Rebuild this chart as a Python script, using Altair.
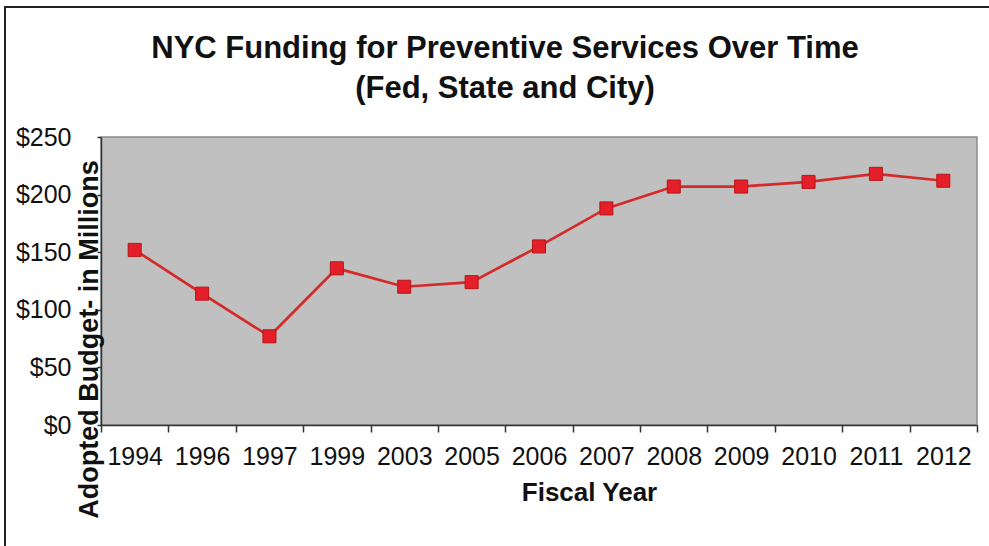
import altair as alt
import pandas as pd

years = ["1994", "1996", "1997", "1999", "2003", "2005", "2006",
         "2007", "2008", "2009", "2010", "2011", "2012"]
budget = [152, 114, 77, 136, 120, 124, 155, 188, 207, 207, 211, 218, 212]
y_ticks = [0, 50, 100, 150, 200, 250]

df = pd.DataFrame({"year": years, "budget": budget})

FONT = "Liberation Sans"

x_enc = alt.X(
    "year:O",
    sort=years,
    scale=alt.Scale(type="band", paddingInner=0, paddingOuter=0),
    bandPosition=0.5,
    axis=alt.Axis(
        title="Fiscal Year",
        titleFont=FONT, titleFontSize=26, titleFontWeight="bold", titleColor="#111",
        titleX=488, titleY=75, titleAlign="center", titleBaseline="alphabetic",
        labelFont=FONT, labelFontSize=25, labelColor="#111", labelAngle=0,
        labelPadding=12, tickBand="extent", tickSize=7, tickColor="#333",
        tickWidth=1.5, domainColor="#333", domainWidth=1.5,
    ),
)
y_enc = alt.Y(
    "budget:Q",
    scale=alt.Scale(domain=[0, 250], nice=False),
    axis=alt.Axis(
        title="Adopted Budget- in Millions",
        values=y_ticks, labelExpr="'$' + datum.value",
        titleFont=FONT, titleFontSize=27, titleFontWeight="bold", titleColor="#111",
        titleX=-12, titleY=202, titleAlign="center", titleBaseline="middle", titleAngle=-90,
        labelFont=FONT, labelFontSize=25, labelColor="#111",
        labelPadding=26, tickSize=4, tickColor="#333", tickWidth=1.5,
        domainColor="#333", domainWidth=1.5, grid=False,
    ),
)

line = alt.Chart(df).mark_line(color="#d42a2a", strokeWidth=2.7).encode(x=x_enc, y=y_enc)
points = alt.Chart(df).mark_point(
    shape="square", filled=True, size=170, fill="#e41f2a", stroke="#b81616",
    strokeWidth=1, opacity=1
).encode(x=x_enc, y=y_enc)

frame_top = alt.Chart(df).mark_rule(color="#222", strokeWidth=2).encode(
    x=alt.value(-96), x2=alt.value(890), y=alt.value(-130), y2=alt.value(-130)
)
frame_left = alt.Chart(df).mark_rule(color="#222", strokeWidth=2).encode(
    x=alt.value(-96), x2=alt.value(-96), y=alt.value(-131), y2=alt.value(412)
)

chart = alt.layer(frame_top, frame_left, line, points).properties(
    width=876,
    height=288,
    autosize=alt.AutoSizeParams(type="none"),
    padding={"left": 101, "top": 137, "right": 12, "bottom": 121},
    background="white",
    title=alt.TitleParams(
        text=["NYC Funding for Preventive Services Over Time", "(Fed, State and City)"],
        font=FONT, fontSize=31, fontWeight="bold", color="#111",
        anchor="middle", frame="group", dx=-34, dy=134, offset=34, lineHeight=40,
    ),
).configure_view(
    fill="#c0c0c0", stroke="#8a8a8a", strokeWidth=1.5
)

chart.save("out.html", embed_options={"renderer": "svg", "actions": False})
